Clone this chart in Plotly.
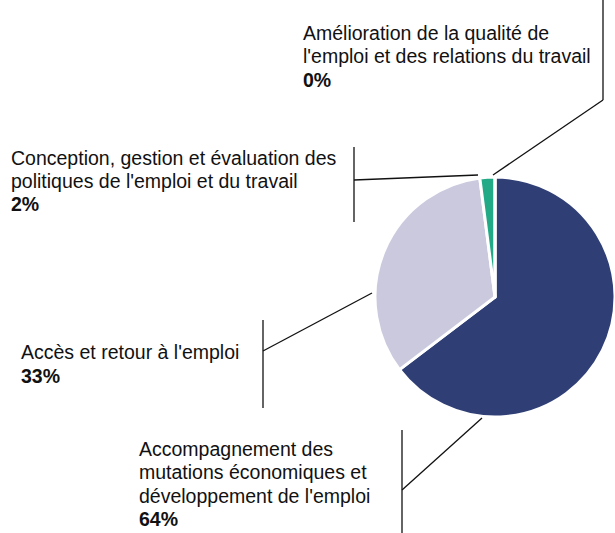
import plotly.graph_objects as go

# Budget breakdown by action
categories = [
    "Accompagnement des mutations économiques et développement de l'emploi",
    "Accès et retour à l'emploi",
    "Conception, gestion et évaluation des politiques de l'emploi et du travail",
    "Amélioration de la qualité de l'emploi et des relations du travail",
]
shares = [64, 33, 2, 0]
colors = ["#2F3F75", "#CAC9DE", "#22AA86", "#FFFFFF"]

# Label text split into lines, with where each label block sits (px)
label_lines = [
    ["Accompagnement des", "mutations économiques et", "développement de l'emploi"],
    ["Accès et retour à l'emploi"],
    ["Conception, gestion et évaluation des", "politiques de l'emploi et du travail"],
    ["Amélioration de la qualité de", "l'emploi et des relations du travail"],
]
label_pos = [(137, 449), (19, 352), (9, 158), (301, 33)]
line_gap = [23.3, 23.5, 23.0, 23.3]

# Leader lines: vertical bar beside the label, then a segment to the pie
bars = [(402, 430, 533), (263, 320, 408), (354, 147, 222), (603, 0, 100)]
connectors = [((402, 490), (482, 418)), ((263, 351), (372, 293)),
              ((354, 180), (478, 175)), ((603, 100), (493, 175))]

W, H = 615, 533
FONT = "Liberation Sans, Arial, sans-serif"


def px(x):
    return x / W


def py(y):
    return 1 - y / H


fig = go.Figure(go.Pie(
    labels=categories,
    values=shares,
    sort=False,
    direction="clockwise",
    rotation=0,
    marker=dict(colors=colors, line=dict(color="white", width=3)),
    textinfo="none",
    hoverinfo="label+percent",
    showlegend=False,
    domain=dict(x=[375 / W, 1.0], y=[py(297 + 120), py(297 - 120)]),
))

annotations = []
for lines, (x0, y0), gap, val in zip(label_lines, label_pos, line_gap, shares):
    texts = lines + [f"<b>{val}%</b>"]
    for i, t in enumerate(texts):
        annotations.append(dict(
            x=px(x0), y=py(y0 + i * gap), xref="paper", yref="paper",
            xanchor="left", yanchor="middle", showarrow=False,
            text=t, font=dict(family=FONT, size=19.5, color="#111111"),
        ))

shapes = []
for x, ya, yb in bars:
    shapes.append(dict(type="line", xref="paper", yref="paper",
                       x0=px(x), x1=px(x), y0=py(ya), y1=py(yb),
                       line=dict(color="#111111", width=1.3)))
for (xa, ya), (xb, yb) in connectors:
    shapes.append(dict(type="line", xref="paper", yref="paper",
                       x0=px(xa), y0=py(ya), x1=px(xb), y1=py(yb),
                       line=dict(color="#111111", width=1.3)))

fig.update_layout(
    width=W, height=H,
    margin=dict(l=0, r=0, t=0, b=0),
    paper_bgcolor="white", plot_bgcolor="white",
    annotations=annotations, shapes=shapes,
)

fig.write_html("out.html")
